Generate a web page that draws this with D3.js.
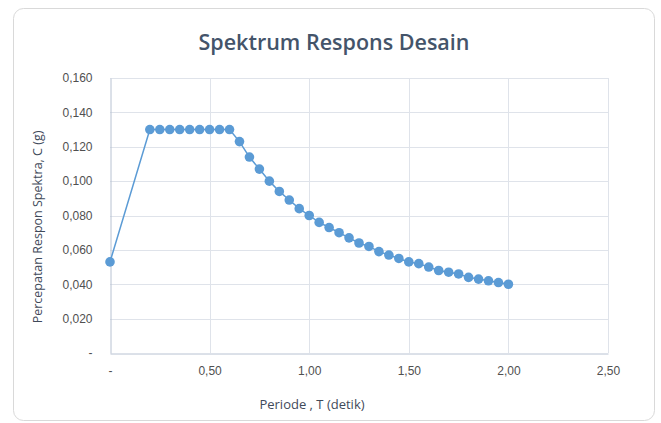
<!DOCTYPE html>
<html>
<head>
<meta charset="utf-8">
<script src="https://cdn.jsdelivr.net/npm/d3@7"></script>
<style>
body { margin: 0; background: #fff; }
svg { display: block; font-family: "Open Sans", "Liberation Sans", sans-serif; }
</style>
</head>
<body>
<svg width="661" height="423"></svg>
<script>
// periode T (detik)
var periods = [0, 0.20, 0.25, 0.30, 0.35, 0.40, 0.45, 0.50, 0.55, 0.60,
	0.65, 0.70, 0.75, 0.80, 0.85, 0.90, 0.95, 1.00, 1.05, 1.10, 1.15, 1.20,
	1.25, 1.30, 1.35, 1.40, 1.45, 1.50, 1.55, 1.60, 1.65, 1.70, 1.75, 1.80,
	1.85, 1.90, 1.95, 2.00];
// percepatan respon spektra C (g)
var accel = [0.053, 0.130, 0.130, 0.130, 0.130, 0.130, 0.130, 0.130, 0.130, 0.130,
	0.123, 0.114, 0.107, 0.100, 0.094, 0.089, 0.084, 0.080, 0.076, 0.073, 0.070, 0.067,
	0.064, 0.062, 0.059, 0.057, 0.055, 0.053, 0.052, 0.050, 0.048, 0.047, 0.046, 0.044,
	0.043, 0.042, 0.041, 0.040];
var xTicks = [0, 0.5, 1.0, 1.5, 2.0, 2.5];
var yTicks = [0, 0.02, 0.04, 0.06, 0.08, 0.10, 0.12, 0.14, 0.16];

var svg = d3.select("svg");

var fmt = function(v, dec) {
	if (v === 0) return "-";
	return v.toFixed(dec).replace(".", ",");
};

// frame
svg.append("rect")
	.attr("x", 13.5).attr("y", 8.5)
	.attr("width", 641).attr("height", 412)
	.attr("rx", 10)
	.attr("fill", "#fff")
	.attr("stroke", "#d9d9d9");

var x = d3.scaleLinear().domain([0, 2.5]).range([110, 608]);
var y = d3.scaleLinear().domain([0, 0.16]).range([353, 78]);

var data = periods.map(function(t, i) { return {t: t, c: accel[i]}; });

// gridlines
svg.append("g").selectAll("line")
	.data(yTicks.slice(1))
	.enter().append("line")
	.attr("x1", x(0)).attr("x2", x(2.5))
	.attr("y1", function(d) { return Math.round(y(d)) + 0.5; })
	.attr("y2", function(d) { return Math.round(y(d)) + 0.5; })
	.attr("stroke", "#dfe3ea");

svg.append("g").selectAll("line")
	.data(xTicks.slice(1))
	.enter().append("line")
	.attr("y1", y(0)).attr("y2", y(0.16))
	.attr("x1", function(d) { return Math.round(x(d)) + 0.5; })
	.attr("x2", function(d) { return Math.round(x(d)) + 0.5; })
	.attr("stroke", "#dfe3ea");

// axes
var xAxis = svg.append("g")
	.attr("transform", "translate(0," + (Math.round(y(0)) + 0.5) + ")")
	.call(d3.axisBottom(x).tickValues(xTicks).tickSize(0).tickPadding(13)
		.tickFormat(function(d) { return fmt(d, 2); }));
xAxis.select(".domain").attr("stroke", "#b8c2d2");

var yAxis = svg.append("g")
	.attr("transform", "translate(" + (Math.round(x(0)) + 0.5) + ",0)")
	.call(d3.axisLeft(y).tickValues(yTicks).tickSize(0).tickPadding(18)
		.tickFormat(function(d) { return fmt(d, 3); }));
yAxis.select(".domain").attr("stroke", "#b8c2d2");

svg.selectAll(".tick text")
	.attr("fill", "#505050")
	.style("font-size", "12px");

// line + markers
svg.append("path")
	.datum(data)
	.attr("fill", "none")
	.attr("stroke", "#5b9bd5")
	.attr("stroke-width", 1.5)
	.attr("d", d3.line()
		.x(function(d) { return x(d.t); })
		.y(function(d) { return y(d.c); }));

svg.append("g").selectAll("circle")
	.data(data)
	.enter().append("circle")
	.attr("cx", function(d) { return x(d.t); })
	.attr("cy", function(d) { return y(d.c); })
	.attr("r", 4.8)
	.attr("fill", "#5b9bd5");

// titles
svg.append("text")
	.attr("x", 334).attr("y", 50)
	.attr("text-anchor", "middle")
	.attr("fill", "#44546a")
	.style("font-size", "21.5px")
	.style("font-weight", "600")
	.text("Spektrum Respons Desain");

svg.append("text")
	.attr("transform", "translate(42,227) rotate(-90)")
	.attr("text-anchor", "middle")
	.attr("fill", "#3f4a5a")
	.style("font-size", "12.5px")
	.style("font-weight", "500")
	.text("Percepatan Respon Spektra, C (g)");

svg.append("text")
	.attr("x", 312).attr("y", 409)
	.attr("text-anchor", "middle")
	.attr("fill", "#3f4a5a")
	.style("font-size", "13px")
	.style("font-weight", "500")
	.text("Periode , T (detik)");
</script>
</body>
</html>
